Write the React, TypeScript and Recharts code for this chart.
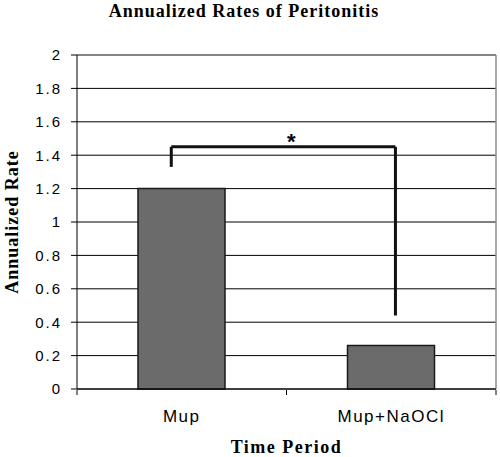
import React from 'react';
import {
  BarChart, Bar, XAxis, YAxis, CartesianGrid, ReferenceLine, Label
} from 'recharts';

// Values
const periods = ['Mup', 'Mup+NaOCl'];
const rates = [1.2, 0.26];
const yTicks = [0, 0.2, 0.4, 0.6, 0.8, 1, 1.2, 1.4, 1.6, 1.8, 2];

// significance bracket (x in category units, 0..2 across the plot)
const bracketX = [0.45, 1.52];
const bracketTop = 1.45;
const bracketLeftBottom = 1.33;
const bracketRightBottom = 0.44;

// pos = middle of each category on a 0..2 numeric scale
const data = periods.map((p, i) => ({ period: p, rate: rates[i], pos: i + 0.5 }));

const SERIF = '"Liberation Serif", "Times New Roman", serif';
const SANS = '"Liberation Sans", Arial, sans-serif';

const App: React.FC = () => {
  return (
    <div style={{ position: 'absolute', left: 0, top: 0, width: 500, height: 457, background: '#fff' }}>
      <svg width={500} height={30} style={{ position: 'absolute', left: 0, top: 0 }}>
        <text x={244} y={17} textAnchor="middle" fontFamily={SERIF} fontWeight="bold" fontSize={18} letterSpacing={1} fill="#000">
          Annualized Rates of Peritonitis
        </text>
      </svg>
      <BarChart
        width={500}
        height={457}
        data={data}
        margin={{ top: 55, right: 4, left: 0, bottom: 61 }}
        barSize={87}
      >
        <CartesianGrid horizontal vertical={false} stroke="#000" strokeWidth={1} />
        {/* category axis: axis line + labels, sits right on the plot bottom */}
        <XAxis
          dataKey="period"
          height={1}
          axisLine={{ stroke: '#000' }}
          tickLine={false}
          tickSize={0}
          tickMargin={21}
          tick={{ fill: '#000', fontFamily: SANS, fontSize: 17, letterSpacing: 1.5 }}
        >
          <Label
            content={({ viewBox }: any) => (
              <text
                x={viewBox.x + viewBox.width / 2}
                y={viewBox.y + 64}
                textAnchor="middle"
                fontFamily={SERIF}
                fontWeight="bold"
                fontSize={18}
                letterSpacing={1.5}
                fill="#000"
              >
                Time Period
              </text>
            )}
          />
        </XAxis>
        {/* numeric helper axis: ticks at category boundaries */}
        <XAxis
          xAxisId="num"
          dataKey="pos"
          type="number"
          domain={[0, 2]}
          allowDataOverflow
          ticks={[0, 1, 2]}
          interval={0}
          height={6}
          axisLine={false}
          tickLine={{ stroke: '#000' }}
          tickSize={5}
          tickFormatter={() => ''}
        />
        <YAxis
          width={77}
          domain={[0, 2]}
          ticks={yTicks}
          interval={0}
          axisLine={{ stroke: '#000' }}
          tickLine={{ stroke: '#000' }}
          tickSize={6}
          tickMargin={9}
          tickFormatter={(v: number) => String(Math.round(v * 10) / 10)}
          tick={{ fill: '#000', fontFamily: SANS, fontSize: 15, letterSpacing: 2 }}
        >
          <Label
            content={({ viewBox }: any) => {
              const cx = 12;
              const cy = viewBox.y + viewBox.height / 2;
              return (
                <text
                  x={cx}
                  y={cy}
                  transform={`rotate(-90 ${cx} ${cy})`}
                  textAnchor="middle"
                  dominantBaseline="central"
                  fontFamily={SERIF}
                  fontWeight="bold"
                  fontSize={18}
                  letterSpacing={1}
                  fill="#000"
                >
                  Annualized Rate
                </text>
              );
            }}
          />
        </YAxis>
        <ReferenceLine y={2} stroke="#8c8c8c" strokeWidth={1} />
        <ReferenceLine xAxisId="num" x={2} stroke="#8c8c8c" strokeWidth={1.5} ifOverflow="visible" />
        <Bar dataKey="rate" fill="#6b6b6b" stroke="#1a1a1a" strokeWidth={1.5} isAnimationActive={false} />
        <ReferenceLine
          xAxisId="num"
          ifOverflow="visible"
          segment={[{ x: bracketX[0], y: bracketLeftBottom }, { x: bracketX[0], y: bracketTop }]}
          stroke="#111"
          strokeWidth={3}
        />
        <ReferenceLine
          xAxisId="num"
          ifOverflow="visible"
          segment={[{ x: bracketX[0], y: bracketTop }, { x: bracketX[1], y: bracketTop }]}
          stroke="#111"
          strokeWidth={3}
        >
          <Label value="*" position="top" offset={-2} dx={8} fontFamily={SANS} fontWeight="bold" fontSize={22} fill="#000" />
        </ReferenceLine>
        <ReferenceLine
          xAxisId="num"
          ifOverflow="visible"
          segment={[{ x: bracketX[1], y: bracketTop }, { x: bracketX[1], y: bracketRightBottom }]}
          stroke="#111"
          strokeWidth={3}
        />
      </BarChart>
    </div>
  );
};

export default App;
